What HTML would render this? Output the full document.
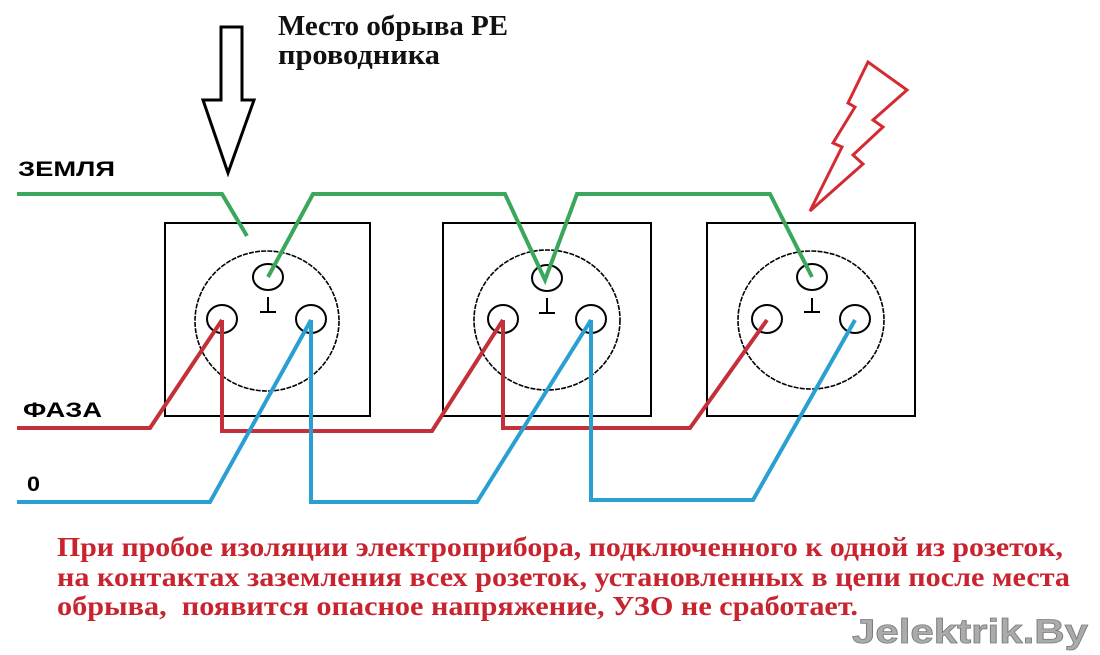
<!DOCTYPE html>
<html>
<head>
<meta charset="utf-8">
<style>
  html,body{margin:0;padding:0;background:#fff;}
  svg{display:block;}
</style>
</head>
<body>
<svg width="1100" height="655" viewBox="0 0 1100 655" xmlns="http://www.w3.org/2000/svg">
  <rect x="0" y="0" width="1100" height="655" fill="#ffffff"/>

  <!-- Title -->
  <g font-family="'Liberation Serif', 'Noto Serif CJK SC', serif" font-weight="bold" fill="#111">
    <text x="278" y="35" font-size="29" textLength="230" lengthAdjust="spacingAndGlyphs">Место обрыва РЕ</text>
    <text x="278" y="64" font-size="29" textLength="162" lengthAdjust="spacingAndGlyphs">проводника</text>
  </g>

  <!-- Down arrow -->
  <polygon points="221,27 242,27 242,100 254,100 228,173 203,100 221,100" fill="none" stroke="#000" stroke-width="3" stroke-linejoin="miter"/>

  <!-- Lightning bolt -->
  <polygon points="810,211 842,147 833,143 855,107 848,103 868,62 907,90 873,120 883,127 853,155 863,164" fill="none" stroke="#d42a32" stroke-width="3" stroke-linejoin="miter"/>

  <!-- Labels -->
  <g font-family="'Liberation Sans', 'Noto Sans CJK SC', sans-serif" font-weight="bold" fill="#000">
    <text x="18" y="176" font-size="21" textLength="97" lengthAdjust="spacingAndGlyphs">ЗЕМЛЯ</text>
    <text x="23" y="417" font-size="21" textLength="79" lengthAdjust="spacingAndGlyphs">ФАЗА</text>
    <text x="27" y="491" font-size="21" textLength="13" lengthAdjust="spacingAndGlyphs">0</text>
  </g>

  <!-- Socket boxes -->
  <g fill="none" stroke="#000" stroke-width="2">
    <rect x="165" y="223" width="205" height="193"/>
    <rect x="443" y="223" width="208" height="193"/>
    <rect x="707" y="223" width="208" height="193"/>
  </g>

  <!-- Socket circles (jagged/dashed) -->
  <g fill="none" stroke="#000" stroke-width="1.6" stroke-dasharray="5 1.2">
    <ellipse cx="267" cy="321" rx="72" ry="70"/>
    <ellipse cx="547" cy="320" rx="73" ry="70"/>
    <ellipse cx="811" cy="320" rx="73" ry="69"/>
  </g>

  <!-- Pins -->
  <g fill="none" stroke="#000" stroke-width="2">
    <ellipse cx="268" cy="277" rx="15" ry="13"/>
    <ellipse cx="222" cy="319" rx="15" ry="14"/>
    <ellipse cx="311" cy="319" rx="15" ry="14"/>

    <ellipse cx="547" cy="278" rx="15" ry="13"/>
    <ellipse cx="503" cy="319" rx="15" ry="14"/>
    <ellipse cx="591" cy="319" rx="15" ry="14"/>

    <ellipse cx="812" cy="277" rx="15" ry="13"/>
    <ellipse cx="767" cy="319" rx="15" ry="14"/>
    <ellipse cx="855" cy="319" rx="15" ry="14"/>
  </g>

  <!-- Ground symbols -->
  <g fill="none" stroke="#000" stroke-width="2">
    <path d="M268,297 L268,312 M260,312 L276,312"/>
    <path d="M547,298 L547,313 M539,313 L555,313"/>
    <path d="M812,298 L812,312 M804,312 L820,312"/>
  </g>

  <!-- Green (PE) wire -->
  <g fill="none" stroke="#3aa75a" stroke-width="4" stroke-linejoin="miter" stroke-linecap="butt">
    <path d="M17,194 L222,194 L247,236"/>
    <path d="M268,277 L313,194 L505,194 L545,280 L577,194 L770,194 L812,277"/>
  </g>

  <!-- Red (phase) wire -->
  <g fill="none" stroke="#c4303a" stroke-width="4" stroke-linejoin="miter" stroke-linecap="butt">
    <path d="M17,428 L150,428 L222,320"/>
    <path d="M222,320 L222,431 L432,431 L503,320"/>
    <path d="M503,320 L503,428 L690,428 L767,320"/>
  </g>

  <!-- Blue (neutral) wire -->
  <g fill="none" stroke="#2aa0d2" stroke-width="4" stroke-linejoin="miter" stroke-linecap="butt">
    <path d="M17,502 L210,502 L311,320"/>
    <path d="M311,320 L311,502 L477,502 L591,320"/>
    <path d="M591,320 L591,500 L753,500 L855,320"/>
  </g>

  <!-- Bottom text -->
  <g font-family="'Liberation Serif', 'Noto Serif CJK SC', serif" font-weight="bold" fill="#c8242f" font-size="27.5">
    <text x="57" y="556" textLength="1006" lengthAdjust="spacingAndGlyphs">При пробое изоляции электроприбора, подключенного к одной из розеток,</text>
    <text x="57" y="586" textLength="1013" lengthAdjust="spacingAndGlyphs">на контактах заземления всех розеток, установленных в цепи после места</text>
    <text x="57" y="615" textLength="801" lengthAdjust="spacingAndGlyphs" xml:space="preserve">обрыва,  появится опасное напряжение, УЗО не сработает.</text>
  </g>

  <!-- Watermark -->
  <text x="852" y="643" font-family="'Liberation Sans', sans-serif" font-weight="bold" font-size="34" fill="#ababab" stroke="#7c7c7c" stroke-width="0.8" textLength="236" lengthAdjust="spacingAndGlyphs">Jelektrik.By</text>
</svg>
</body>
</html>
